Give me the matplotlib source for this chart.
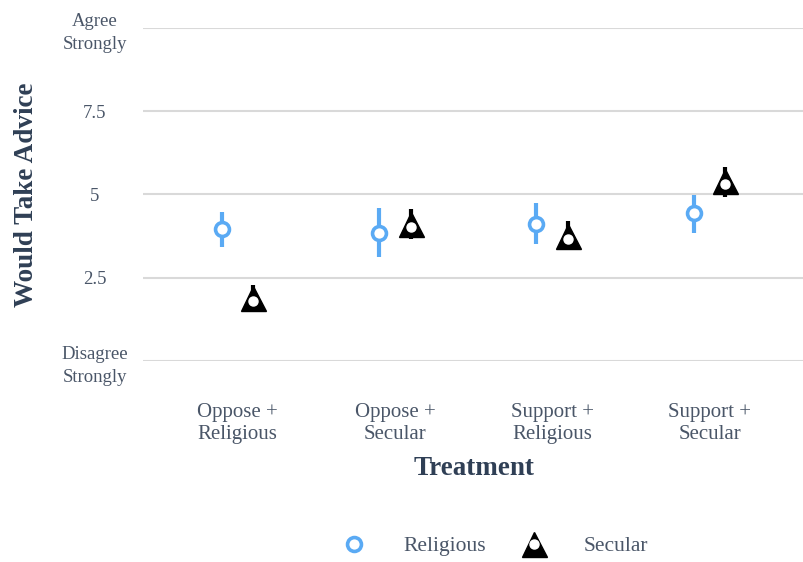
import numpy as np
import matplotlib
matplotlib.use("Agg")
import matplotlib.pyplot as plt
from matplotlib.lines import Line2D

# Values
treatments = ["Oppose +\nReligious", "Oppose +\nSecular", "Support +\nReligious", "Support +\nSecular"]
rel_mean = [3.96, 3.84, 4.11, 4.44]
rel_lo = [3.42, 3.12, 3.51, 3.84]
rel_hi = [4.47, 4.59, 4.74, 4.98]
sec_mean = [1.89, 4.11, 3.75, 5.40]
sec_lo = [1.47, 3.66, 3.39, 4.92]
sec_hi = [2.28, 4.56, 4.20, 5.82]
y_ticks = [0, 2.5, 5, 7.5, 10]
y_ticklabels = ["Disagree\nStrongly", "2.5", "5", "7.5", "Agree\nStrongly"]

plt.rcParams['font.family'] = ['Liberation Serif', 'DejaVu Serif']
blue = "#5aaaf4"
text_col = "#4a5668"
label_col = "#2f3f55"

fig = plt.figure(figsize=(8.04, 5.62), dpi=100)
ax = fig.add_axes([0.178, 0.357, 0.822, 0.594])

x = np.arange(len(treatments))
off = 0.1

rel_err = [np.array(rel_mean) - np.array(rel_lo), np.array(rel_hi) - np.array(rel_mean)]
sec_err = [np.array(sec_mean) - np.array(sec_lo), np.array(sec_hi) - np.array(sec_mean)]

ax.errorbar(x - off, rel_mean, yerr=rel_err, fmt='none', ecolor=blue, elinewidth=3, capsize=0, zorder=3)
ax.plot(x - off, rel_mean, 'o', ms=10, mfc='white', mec=blue, mew=2.6, zorder=4, ls='none')

ax.errorbar(x + off, sec_mean, yerr=sec_err, fmt='none', ecolor='black', elinewidth=3, capsize=0, zorder=3)
ax.plot(x + off, sec_mean, '^', ms=18, mfc='black', mec='black', zorder=4, ls='none')
ax.plot(x + off, np.array(sec_mean) - 0.1, 'o', ms=6.5, mfc='white', mec='white', zorder=5, ls='none')

ax.set_xlim(-0.6, 3.6)
ax.set_ylim(-0.02, 10.02)
ax.set_yticks(y_ticks)
ax.set_yticklabels(y_ticklabels, color=text_col, fontsize=13.5, ha='center', linespacing=1.45)
ax.tick_params(axis='y', length=0, pad=35)
ax.set_xticks(x)
ax.set_xticklabels(treatments, color=text_col, fontsize=15, linespacing=1.2)
ax.tick_params(axis='x', length=0, pad=30)
ax.grid(axis='y', color='#d9d9d9', lw=1.5)
ax.set_axisbelow(True)
for s in ax.spines.values():
    s.set_visible(False)

ax.set_ylabel("Would Take Advice", fontsize=19.5, fontweight='bold', color=label_col)
ax.yaxis.set_label_coords(-0.177, 0.5)
ax.yaxis.label.set_va('center')
ax.set_xlabel("Treatment", fontsize=19.5, fontweight='bold', color=label_col)
ax.xaxis.set_label_coords(0.5, -0.321)
ax.xaxis.label.set_va('center')

h_rel = Line2D([], [], marker='o', ms=10, mfc='white', mec=blue, mew=2.6, ls='none')
h_sec = (Line2D([], [], marker='^', ms=18, mfc='black', mec='black', ls='none'),
         Line2D([], [], marker='o', ms=6.5, mfc='white', mec='white', ls='none'))
leg = fig.legend([h_rel, h_sec], ["Religious", "Secular"], loc='center', bbox_to_anchor=(0.61, 0.028),
                 ncol=2, frameon=False, fontsize=15.5, handletextpad=1.3, columnspacing=1.25)
for t in leg.get_texts():
    t.set_color(text_col)

fig.savefig("out.png", dpi=100)
